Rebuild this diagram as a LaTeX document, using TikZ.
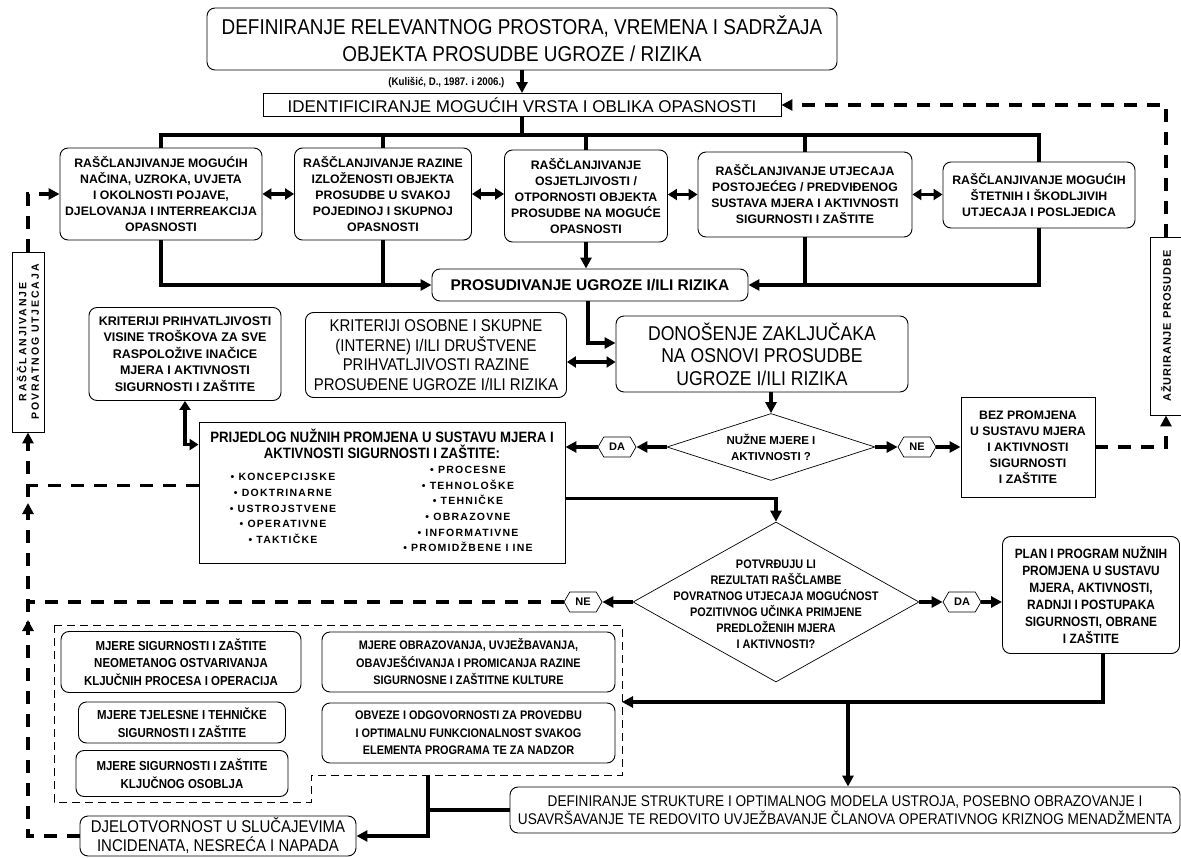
\documentclass[tikz,border=0pt]{standalone}
\usepackage{fontspec}
\setmainfont{Liberation Sans}
\newfontfamily\nrw{Liberation Sans}[FakeStretch=0.88]
\usetikzlibrary{arrows.meta,shapes.geometric,shapes.symbols}

\tikzset{
  box/.style={draw, rounded corners=8pt, line width=0.9pt, align=center, inner sep=1pt},
  sbox/.style={draw, line width=0.9pt, align=center, inner sep=1pt},
  conn/.style={line width=3.2pt, -{Triangle[length=11pt,width=11pt]}},
  dbl/.style={line width=3.2pt, {Triangle[length=9pt,width=11pt]}-{Triangle[length=9pt,width=11pt]}},
  bus/.style={line width=3.2pt},
  dline/.style={line width=3.2pt, dash pattern=on 13pt off 10pt},
  hexa/.style={draw, signal, signal to=east and west, signal pointer angle=120, line width=0.7pt,
    minimum width=38pt, minimum height=20pt, inner sep=1pt, font=\bfseries\fontsize{11}{11}\selectfont},
  bt/.style={font=\bfseries\fontsize{12.3}{16}\selectfont},
  nb/.style={font=\nrw\bfseries\fontsize{13}{17.5}\selectfont},
  itm/.style={font=\bfseries\fontsize{10.5}{15.6}\selectfont\addfontfeature{LetterSpace=12}, align=center},
}

\begin{document}
\begin{tikzpicture}[x=1pt,y=-1pt]
\useasboundingbox (0,0) rectangle (1181,858);

% naslov i identifikacija
\node[box, minimum width=630pt, minimum height=62pt, font=\nrw\fontsize{21.5}{27}\selectfont] (title) at (522,39)
  {DEFINIRANJE RELEVANTNOG PROSTORA, VREMENA I SADRŽAJA\\OBJEKTA PROSUDBE UGROZE / RIZIKA};
\node[font=\nrw\bfseries\fontsize{11}{11}\selectfont, anchor=east] (izvor) at (508,83) {(Kulišić, D., 1987. i 2006.)};
\node[sbox, minimum width=518pt, minimum height=23pt, font=\fontsize{17}{18}\selectfont] (ident) at (522,105)
  {IDENTIFICIRANJE MOGUĆIH VRSTA I OBLIKA OPASNOSTI};
\draw[conn] (title.south) -- (ident.north);

% pet rasclanjivanja
\node[box, bt, minimum width=202pt, minimum height=92pt] (b1) at (161,194)
  {RAŠČLANJIVANJE MOGUĆIH\\NAČINA, UZROKA, UVJETA\\I OKOLNOSTI POJAVE,\\DJELOVANJA I INTERREAKCIJA\\OPASNOSTI};
\node[box, bt, minimum width=177pt, minimum height=92pt] (b2) at (383,194)
  {RAŠČLANJIVANJE RAZINE\\IZLOŽENOSTI OBJEKTA\\PROSUDBE U SVAKOJ\\POJEDINOJ I SKUPNOJ\\OPASNOSTI};
\node[box, bt, minimum width=163pt, minimum height=92pt] (b3) at (586,196)
  {RAŠČLANJIVANJE\\OSJETLJIVOSTI /\\OTPORNOSTI OBJEKTA\\PROSUDBE NA MOGUĆE\\OPASNOSTI};
\node[box, bt, minimum width=214pt, minimum height=85pt] (b4) at (805,194.5)
  {RAŠČLANJIVANJE UTJECAJA\\POSTOJEĆEG / PREDVIĐENOG\\SUSTAVA MJERA I AKTIVNOSTI\\SIGURNOSTI I ZAŠTITE};
\node[box, bt, minimum width=192pt, minimum height=66pt] (b5) at (1039,195)
  {RAŠČLANJIVANJE MOGUĆIH\\ŠTETNIH I ŠKODLJIVIH\\UTJECAJA I POSLJEDICA};

\coordinate (bt) at (522,135);
\draw[bus] (ident.south) -- (bt);
\draw[bus] (b1.north) -- (b1.north |- bt) -- (b5.north |- bt) -- (b5.north);
\draw[bus] (b2.north) -- (b2.north |- bt);
\draw[bus] (b3.north) -- (b3.north |- bt);
\draw[bus] (b4.north) -- (b4.north |- bt);

\draw[dbl] (b1.east |- b2.west) -- (b2.west);
\draw[dbl] (b2.east) -- (b2.east -| b3.west);
\draw[dbl] (b3.east |- b4.west) -- (b4.west);
\draw[dbl] (b4.east) -- (b4.east -| b5.west);

% prosudivanje
\node[box, font=\bfseries\fontsize{15.5}{16}\selectfont, minimum width=316pt, minimum height=32pt] (pros) at (590,285)
  {PROSUDIVANJE UGROZE I/ILI RIZIKA};
\draw[conn] (b1.south) |- (pros.west);
\draw[bus] (b2.south) -- (b2.south |- pros.west);
\draw[conn] (b3.south) -- (b3.south |- pros.north);
\draw[conn] (b5.south) |- (pros.east);
\draw[bus] (b4.south) -- (b4.south |- pros.east);

% bocni okviri
\node[sbox, minimum width=32pt, minimum height=180pt] (lbox) at (28,342) {};
\node[rotate=90, align=center, font=\bfseries\fontsize{10.5}{12.5}\selectfont\addfontfeature{LetterSpace=18}] (lboxt) at (lbox)
  {RAŠČLANJIVANJE\\POVRATNOG UTJECAJA};
\node[sbox, minimum width=31pt, minimum height=178pt] (rbox) at (1166,326) {};
\node[rotate=90, font=\bfseries\fontsize{11}{12}\selectfont\addfontfeature{LetterSpace=8}] (rboxt) at (rbox)
  {AŽURIRANJE PROSUDBE};

% kriteriji i zakljucci
\node[box, font=\bfseries\fontsize{12.5}{16.5}\selectfont, minimum width=192pt, minimum height=93pt] (krit1) at (185,354)
  {KRITERIJI PRIHVATLJIVOSTI\\VISINE TROŠKOVA ZA SVE\\RASPOLOŽIVE INAČICE\\MJERA I AKTIVNOSTI\\SIGURNOSTI I ZAŠTITE};
\node[box, font=\nrw\fontsize{17}{19.5}\selectfont, minimum width=261pt, minimum height=85pt] (krit2) at (436,355)
  {KRITERIJI OSOBNE I SKUPNE\\(INTERNE) I/ILI DRUŠTVENE\\PRIHVATLJIVOSTI RAZINE\\PROSUĐENE UGROZE I/ILI RIZIKA};
\node[box, font=\nrw\fontsize{20}{22.5}\selectfont, minimum width=292pt, minimum height=76pt] (donos) at (762,354)
  {DONOŠENJE ZAKLJUČAKA\\NA OSNOVI PROSUDBE\\UGROZE I/ILI RIZIKA};
\draw[conn] ([xshift=-2pt]pros.south) |- ([yshift=11pt]donos.west);
\draw[dbl] ([yshift=-7pt]krit2.east) -- ([yshift=-7pt]krit2.east -| donos.west);

% prva odluka
\node[diamond, draw, line width=0.7pt, minimum width=208pt, minimum height=67pt, inner sep=0pt] (dia1) at (771,447) {};
\node[align=center, font=\bfseries\fontsize{11.5}{16}\selectfont] (dia1t) at (dia1) {NUŽNE MJERE I\\AKTIVNOSTI ?};
\draw[conn] (dia1.north |- donos.south) -- (dia1.north);
\node[hexa] (da1) at (617,447) {DA};
\node[hexa] (ne1) at (917,447) {NE};
\node[sbox, font=\bfseries\fontsize{12.3}{16}\selectfont, minimum width=134pt, minimum height=100pt] (bez) at (1028,447)
  {BEZ PROMJENA\\U SUSTAVU MJERA\\I AKTIVNOSTI\\SIGURNOSTI\\I ZAŠTITE};

\node[sbox, minimum width=366pt, minimum height=141pt] (prij) at (382,492.5) {};
\node[align=center, font=\nrw\bfseries\fontsize{15}{16.5}\selectfont] (prijt) at (382,444)
  {PRIJEDLOG NUŽNIH PROMJENA U SUSTAVU MJERA I\\AKTIVNOSTI SIGURNOSTI I ZAŠTITE:};
\node[itm] (prijl) at (283,508.5)
  {• KONCEPCIJSKE\\• DOKTRINARNE\\• USTROJSTVENE\\• OPERATIVNE\\• TAKTIČKE};
\node[itm] (prijr) at (468,509)
  {• PROCESNE\\• TEHNOLOŠKE\\• TEHNIČKE\\• OBRAZOVNE\\• INFORMATIVNE\\• PROMIDŽBENE I INE};

\draw[conn] (dia1.west) -- (da1.east);
\draw[conn] (da1.west) -- (da1.west -| prij.east);
\draw[conn] (dia1.east) -- (ne1.west);
\draw[conn] (ne1.east) -- (bez.west);
\draw[dbl] (krit1.south) |- ([yshift=-23pt]prij.north west);

% druga odluka
\node[diamond, draw, line width=0.7pt, minimum width=286pt, minimum height=160pt, inner sep=0pt] (dia2) at (776,602) {};
\node[align=center, font=\nrw\bfseries\fontsize{12.4}{16}\selectfont] (dia2t) at (776,604)
  {POTVRĐUJU LI\\REZULTATI RAŠČLAMBE\\POVRATNOG UTJECAJA MOGUĆNOST\\POZITIVNOG UČINKA PRIMJENE\\PREDLOŽENIH MJERA\\I AKTIVNOSTI?};
\draw[conn] ([yshift=-6pt]prij.east) -| (dia2.north);
\node[hexa] (ne2) at (583,602) {NE};
\node[hexa] (da2) at (962,602) {DA};
\node[box, font=\nrw\bfseries\fontsize{13.5}{17}\selectfont, minimum width=177pt, minimum height=117pt] (plan) at (1091,595)
  {PLAN I PROGRAM NUŽNIH\\PROMJENA U SUSTAVU\\MJERA, AKTIVNOSTI,\\RADNJI I POSTUPAKA\\SIGURNOSTI, OBRANE\\I ZAŠTITE};
\draw[conn] (dia2.west) -- (ne2.east);
\draw[conn] (dia2.east) -- (da2.west);
\draw[conn] (da2.east) -- (da2.east -| plan.west);

% skup mjera
\draw[line width=0.8pt, dash pattern=on 8pt off 5pt] (54,625) -- (622,625) -- (622,775) -- (311,775) -- (311,802) -- (54,802) -- cycle;
\node[box, nb, minimum width=240pt, minimum height=61pt] (mA) at (181,662)
  {MJERE SIGURNOSTI I ZAŠTITE\\NEOMETANOG OSTVARIVANJA\\KLJUČNIH PROCESA I OPERACIJA};
\node[box, nb, minimum width=207pt, minimum height=41pt] (mB) at (182,722.5)
  {MJERE TJELESNE I TEHNIČKE\\SIGURNOSTI I ZAŠTITE};
\node[box, nb, minimum width=212pt, minimum height=46pt] (mC) at (182,773.5)
  {MJERE SIGURNOSTI I ZAŠTITE\\KLJUČNOG OSOBLJA};
\node[box, nb, font=\nrw\bfseries\fontsize{12.4}{17.5}\selectfont, minimum width=293pt, minimum height=60pt] (mD) at (468.5,662)
  {MJERE OBRAZOVANJA, UVJEŽBAVANJA,\\OBAVJEŠĆIVANJA I PROMICANJA RAZINE\\SIGURNOSNE I ZAŠTITNE KULTURE};
\node[box, nb, font=\nrw\bfseries\fontsize{12.4}{17.5}\selectfont, minimum width=293pt, minimum height=60pt] (mE) at (468.5,733)
  {OBVEZE I ODGOVORNOSTI ZA PROVEDBU\\I OPTIMALNU FUNKCIONALNOST SVAKOG\\ELEMENTA PROGRAMA TE ZA NADZOR};

\node[box, font=\nrw\fontsize{15.5}{18}\selectfont, minimum width=670pt, minimum height=46pt] (def) at (845,810)
  {DEFINIRANJE STRUKTURE I OPTIMALNOG MODELA USTROJA, POSEBNO OBRAZOVANJE I\\USAVRŠAVANJE TE REDOVITO UVJEŽBAVANJE ČLANOVA OPERATIVNOG KRIZNOG MENADŽMENTA};
\node[box, font=\nrw\fontsize{17}{19}\selectfont, minimum width=276pt, minimum height=40pt] (djelo) at (218,836)
  {DJELOTVORNOST U SLUČAJEVIMA\\INCIDENATA, NESREĆA I NAPADA};

\coordinate (cr) at (622,702);
\coordinate (bj) at (848,702);
\coordinate (cb) at (428,775);
\draw[conn] ([xshift=12pt]plan.south) |- (cr);
\draw[conn] (bj) -- (bj |- def.north);
\draw[conn] (cb) |- (djelo.east);
\draw[bus] (cb |- def.west) -- (def.west);

% povratne veze
\draw[dline, -{Triangle[length=11pt,width=11pt]}] (rbox.north) |- (ident.east);
\draw[dline, -{Triangle[length=11pt,width=11pt]}] (bez.east) -| (rbox.south);
\draw[dline, -{Triangle[length=11pt,width=11pt]}] (lbox.north) |- (b1.west);
\draw[dline] (djelo.west) -| (lbox.south);
\draw[dline] ([yshift=7pt]prij.west) -- ([yshift=7pt]prij.west -| lbox.south);
\draw[dline] (ne2.west) -- (ne2.west -| lbox.south);
\coordinate (lv1) at (28,503);
\coordinate (lv2) at (28,620);
\draw[conn] ([yshift=-10pt]lbox.south) -- (lbox.south);
\draw[conn] ([yshift=-10pt]lv1) -- (lv1);
\draw[conn] ([yshift=-10pt]lv2) -- (lv2);
\end{tikzpicture}
\end{document}
